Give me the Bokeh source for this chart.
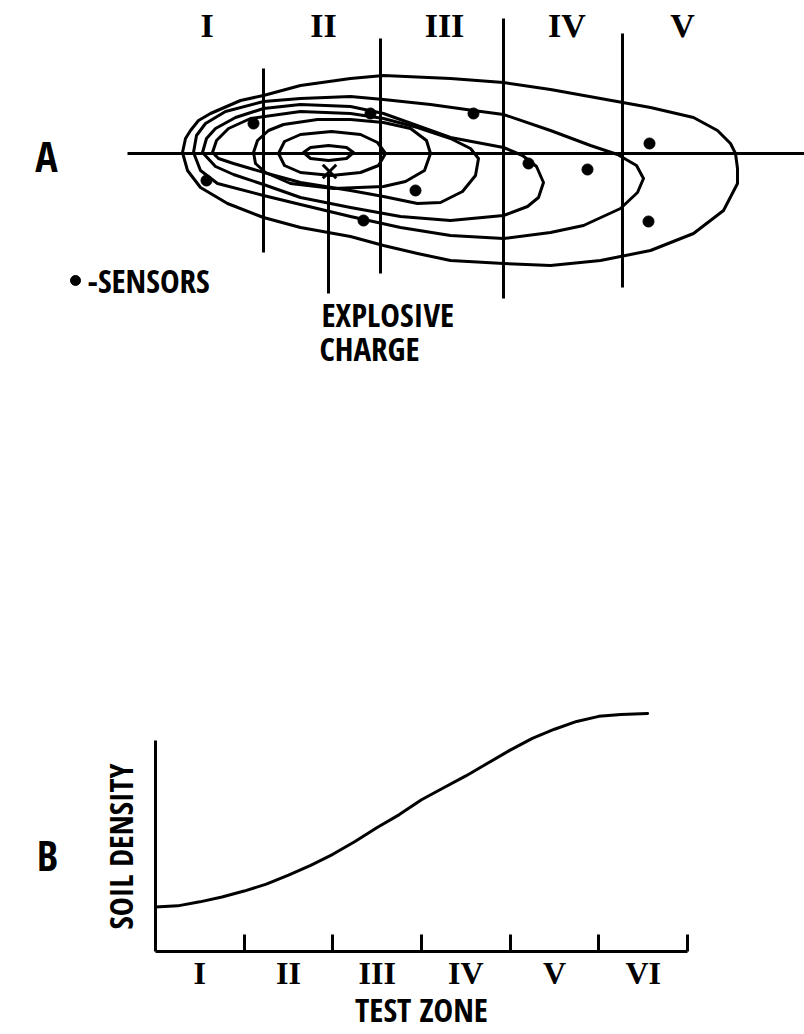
import math
from bokeh.plotting import figure
from bokeh.models import Range1d, LinearAxis, FixedTicker, Label
from bokeh.layouts import row
from bokeh.embed import file_html
from bokeh.resources import INLINE
from bokeh.core.properties import value

# ---------------- Panel A: plan view of the test strip ----------------
# diagram units: x along the strip measured from the charge, y = lateral offset
zone_names_a = ["I", "II", "III", "IV", "V"]
zone_edges_a = [-178, -65, 55, 177, 300, 408]
zone_line_x = [-65, 52, 175, 294]
zone_line_top = [85, 115, 135, 120]
zone_line_bottom = [-99, -120, -145, -134]
strip_x = [-201, 476]

c1_x = [-25, -18, 0, 18, 25, 18, 0, -18]
c1_y = [1, 6, 8, 6, 1, -5, -7, -5]
c2_x = [-50, -44, -28, 3, 32, 49, 57, 50, 32, 3, -28, -44]
c2_y = [0, 12, 19, 22, 19, 11, 0, -12, -19, -22, -19, -12]
c3_x = [-75, -71, -60, -45, -11, 22, 55, 82, 98, 102, 96, 77, 55, 5, -38, -63, -73]
c3_y = [1, 13, 23, 29, 34, 34, 31, 25, 13, 0, -17, -28, -33, -35, -30, -19, -10]
c4_x = [-116, -112, -100, -78, -28, 22, 55, 89, 122, 142, 150, 147, 134, 112, 89, 55, 22, -28, -61, -95, -110]
c4_y = [1, 13, 25, 35, 42, 40, 35, 26, 15, 5, -5, -22, -38, -49, -50, -43, -37, -29, -20, -10, -5]
c5_x = [-126, -122, -113, -93, -65, -28, 22, 55, 122, 175, 194, 208, 215, 210, 199, 175, 122, 72, 22, -28, -65, -95, -113]
c5_y = [1, 15, 25, 36, 45, 49, 47, 40, 16, 6, -2, -13, -29, -44, -53, -62, -67, -63, -54, -44, -31, -21, -13]
c6_x = [-135, -132, -123, -103, -65, -28, 22, 55, 102, 145, 175, 222, 262, 289, 308, 315, 309, 292, 255, 222, 175, 122, 72, 22, -28, -65, -111, -128]
c6_y = [1, 18, 30, 42, 52, 55, 57, 54, 49, 43, 39, 23, 8, -1, -12, -25, -39, -55, -72, -79, -85, -82, -74, -63, -51, -42, -30, -17]
c7_x = [-146, -143, -138, -130, -118, -88, -65, -28, 22, 55, 122, 175, 222, 272, 322, 365, 389, 402, 407, 409, 409, 395, 365, 322, 272, 222, 175, 122, 89, 55, 22, -28, -65, -101, -128, -141]
c7_y = [1, 15, 23, 33, 40, 53, 58, 68, 75, 78, 75, 71, 64, 55, 46, 36, 23, 10, 0, -15, -30, -57, -80, -97, -107, -112, -110, -107, -100, -92, -83, -74, -64, -50, -34, -17]

sensor_x = [-75, -122, 42, 145, 87, 35, 200, 259, 321, 320]
sensor_y = [30, -27, 40, 40, -37, -67, -10, -16, 10, -68]

charge_x = [1]
charge_y = [-18]
lead_top, lead_bottom = -22, -140

# ---------------- Panel B: soil density by test zone ----------------
zones_b = ["I", "II", "III", "IV", "V", "VI"]
zone_pos = [0, 0.25, 0.5, 0.75, 1.0, 1.25, 1.5, 1.75, 2.0, 2.25, 2.5, 2.75,
            3.0, 3.25, 3.5, 3.75, 4.0, 4.25, 4.5, 4.75, 5.0, 5.25, 5.55]
density = [2.11, 2.16, 2.35, 2.58, 2.86, 3.19, 3.62, 4.08, 4.60, 5.21, 5.87, 6.48,
           7.18, 7.75, 8.31, 8.92, 9.53, 10.09, 10.52, 10.89, 11.13, 11.22, 11.27]

NARROW = ("Open Sans Condensed, Open Sans Condensed Bold, Roboto Condensed, "
          "Liberation Sans, sans-serif")
SERIF = "Liberation Serif, DejaVu Serif, serif"

# ---- figure A ----
pA = figure(width=804, height=412, x_range=Range1d(-328, 476), y_range=Range1d(-259, 153),
            output_backend="svg", toolbar_location=None, min_border=0,
            x_axis_location=None, y_axis_location=None)
pA.outline_line_color = None
pA.xgrid.visible = False
pA.ygrid.visible = False

pA.patches(xs=[c1_x, c2_x, c3_x, c4_x, c5_x, c6_x, c7_x],
           ys=[c1_y, c2_y, c3_y, c4_y, c5_y, c6_y, c7_y],
           fill_color=None, line_color="black", line_width=3, line_join="round")
pA.segment(x0=[strip_x[0]], y0=[0], x1=[strip_x[1]], y1=[0], line_color="black", line_width=3)
pA.segment(x0=zone_line_x, y0=zone_line_bottom, x1=zone_line_x, y1=zone_line_top,
           line_color="black", line_width=3)
pA.segment(x0=[0], y0=[lead_top], x1=[0], y1=[lead_bottom], line_color="black", line_width=3)
pA.scatter(x=charge_x, y=charge_y, marker="x", size=19, line_color="black", line_width=3)
pA.scatter(x=sensor_x, y=sensor_y, size=11, color="black")

mids = [(zone_edges_a[i] + zone_edges_a[i + 1]) / 2 for i in range(len(zone_names_a))]
pA.text(x=mids, y=[128] * len(mids), text=zone_names_a, text_font=value(SERIF),
        text_font_style="bold", text_font_size="34px", text_align="center",
        text_baseline="middle", text_color="black")

pA.add_layout(Label(x=-282, y=-2, text="A", text_font=NARROW, text_font_style="bold",
                    text_font_size="42px", text_align="center", text_baseline="middle",
                    text_color="black"))
pA.scatter(x=[-253], y=[-127], size=10, color="black")
for txt, lx, ly in [("-SENSORS", -241, -127), ("EXPLOSIVE", -7, -161), ("CHARGE", -9, -195)]:
    pA.add_layout(Label(x=lx, y=ly, text=txt, text_font=NARROW, text_font_style="bold",
                        text_font_size="33px", text_align="left", text_baseline="middle",
                        text_color="black"))

# ---- figure B (plot) ----
yr = Range1d(0, 11.88)
pB = figure(width=654, height=622, x_range=Range1d(0, 6), y_range=yr,
            output_backend="svg", toolbar_location=None,
            x_axis_location=None, y_axis_location=None,
            min_border_left=5, min_border_right=117, min_border_top=288, min_border_bottom=81)
pB.outline_line_color = None
pB.xgrid.visible = False
pB.ygrid.visible = False

xaxis = LinearAxis(ticker=FixedTicker(ticks=[i + 0.5 for i in range(len(zones_b))],
                                      minor_ticks=list(range(1, len(zones_b) + 1))),
                   major_label_overrides={i + 0.5: z for i, z in enumerate(zones_b)},
                   bounds=(0, len(zones_b)), axis_label="TEST ZONE")
xaxis.axis_line_width = 3
xaxis.major_tick_line_color = None
xaxis.major_tick_in = 0
xaxis.major_tick_out = 0
xaxis.minor_tick_in = 17
xaxis.minor_tick_out = 0
xaxis.minor_tick_line_width = 3
xaxis.major_label_standoff = 3
xaxis.major_label_text_font = SERIF
xaxis.major_label_text_font_style = "bold"
xaxis.major_label_text_font_size = "32px"
xaxis.major_label_text_color = "black"
xaxis.axis_label_standoff = -7
xaxis.axis_label_text_font = NARROW
xaxis.axis_label_text_font_style = "bold"
xaxis.axis_label_text_font_size = "33px"
xaxis.axis_label_text_color = "black"
pB.add_layout(xaxis, "below")

yaxis = LinearAxis(ticker=FixedTicker(ticks=[]), bounds=(0, 10))
yaxis.axis_line_width = 3
yaxis.major_tick_in = 0
yaxis.major_tick_out = 0
yaxis.minor_tick_in = 0
yaxis.minor_tick_out = 0
yaxis.major_label_standoff = 0
pB.add_layout(yaxis, "left")

pB.line(x=zone_pos, y=density, line_color="black", line_width=3, line_join="round", line_cap="round")

# ---- side strip carrying the panel letter and the density axis title ----
pL = figure(width=150, height=622, x_range=Range1d(0, 150), y_range=yr,
            output_backend="svg", toolbar_location=None,
            x_axis_location=None, y_axis_location=None,
            min_border_left=0, min_border_right=0, min_border_top=288, min_border_bottom=81)
pL.outline_line_color = None
pL.xgrid.visible = False
pL.ygrid.visible = False
pL.text(x=[120], y=[4.97], text=["SOIL DENSITY"], angle=math.pi / 2, text_font=value(NARROW),
        text_font_style="bold", text_font_size="32px", text_align="center",
        text_baseline="middle", text_color="black")
pL.text(x=[47], y=[4.6], text=["B"], text_font=value(NARROW),
        text_font_style="bold", text_font_size="42px", text_align="center",
        text_baseline="middle", text_color="black")

open("out.html", "w").write(file_html([pA, row(pL, pB)], INLINE))
